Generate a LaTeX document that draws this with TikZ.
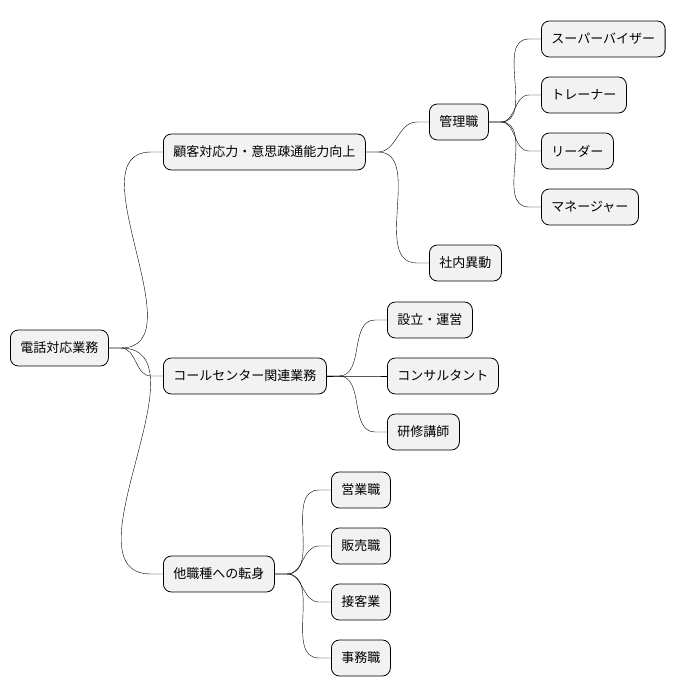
\documentclass[tikz,border=0pt]{standalone}
\usepackage{fontspec}
\setmainfont{Noto Sans CJK JP}
\usetikzlibrary{positioning}
\begin{document}
\begin{tikzpicture}
    [x=1pt, y=-1pt,
     topic/.style={rectangle, rounded corners=8pt, draw=black, fill=gray!10, thick, minimum height=36pt, inner xsep=10pt, anchor=west, font=\fontsize{13pt}{15pt}\selectfont},
     link/.style={thin}]
    \useasboundingbox (0,0) rectangle (684,696);

    \node [topic] (root) at (10,348) {電話対応業務};
    \node [topic] (skill) at (163,152) {顧客対応力・意思疎通能力向上};
    \node [topic] (call) at (163,376) {コールセンター関連業務};
    \node [topic] (other) at (163,574) {他職種への転身};

    \node [topic] (mgmt) at (429,122) {管理職};
    \node [topic] (move) at (429,263) {社内異動};
    \node [topic] (sv) at (541,39) {スーパーバイザー};
    \node [topic] (trainer) at (541,95) {トレーナー};
    \node [topic] (leader) at (541,151) {リーダー};
    \node [topic] (manager) at (541,207) {マネージャー};

    \node [topic] (setup) at (387,320) {設立・運営};
    \node [topic] (consult) at (387,376) {コンサルタント};
    \node [topic] (lecturer) at (387,432) {研修講師};

    \node [topic] (sales) at (331,490) {営業職};
    \node [topic] (retail) at (331,546) {販売職};
    \node [topic] (service) at (331,602) {接客業};
    \node [topic] (office) at (331,658) {事務職};

    % branches
    \foreach \p/\c in {root/skill, root/call, root/other, skill/mgmt, skill/move,
                       mgmt/sv, mgmt/trainer, mgmt/leader, mgmt/manager,
                       call/setup, call/consult, call/lecturer,
                       other/sales, other/retail, other/service, other/office}
        \draw [link] (\p.east) -- ++(12,0) to[out=0, in=180] ([xshift=-12pt] \c.west) -- (\c.west);
\end{tikzpicture}
\end{document}
